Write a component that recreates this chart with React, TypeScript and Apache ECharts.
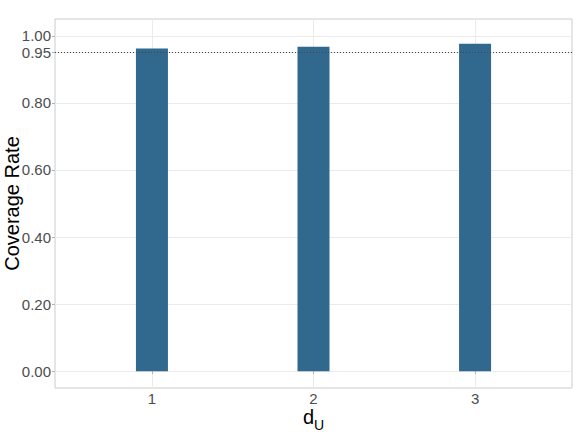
import React, { useEffect, useRef } from "react";
import * as echarts from "echarts";

const categories = [1, 2, 3];
const coverage = [0.962, 0.967, 0.976];
const yTicks = [0, 0.2, 0.4, 0.6, 0.8, 0.95, 1.0];
const nominal = 0.95;

export default function App() {
  const ref = useRef<HTMLDivElement>(null);
  useEffect(() => {
    if (!ref.current) return;
    const chart = echarts.init(ref.current, null, { renderer: "svg" });
    const font = "Liberation Sans, Arial, sans-serif";
    chart.setOption({
      animation: false,
      backgroundColor: "#ffffff",
      grid: {
        left: 55,
        right: 4,
        top: 19,
        bottom: 44,
        outerBoundsMode: "none",
        containLabel: false,
        show: true,
        borderColor: "#cccccc",
        borderWidth: 1,
        backgroundColor: "transparent",
      },
      xAxis: {
        type: "value",
        min: 0.4,
        max: 3.6,
        name: "{d|d}{s|U}",
        nameLocation: "middle",
        nameMoveOverlap: false,
        nameGap: 17,
        nameTextStyle: {
          verticalAlign: "top",
          rich: {
            d: { fontSize: 20, color: "#000000", fontFamily: font, verticalAlign: "bottom", lineHeight: 22 },
            s: { fontSize: 14, color: "#000000", fontFamily: font, verticalAlign: "bottom", lineHeight: 16, padding: [0, 0, -5, 0] },
          },
        },
        axisLine: { show: false },
        axisTick: { show: true, length: 3, lineStyle: { color: "#b3b3b3" }, customValues: categories },
        axisLabel: {
          customValues: categories,
          color: "#4d4d4d",
          fontSize: 15,
          fontFamily: font,
          margin: 3,
          formatter: (v: number) => String(v),
        },
        splitLine: { show: true, lineStyle: { color: "#ebebeb", width: 1 } },
      },
      yAxis: {
        type: "value",
        min: -0.05,
        max: 1.05,
        name: "Coverage Rate",
        nameLocation: "middle",
        nameMoveOverlap: false,
        nameGap: 33,
        nameTextStyle: { fontSize: 20, color: "#000000", fontFamily: font },
        axisLine: { show: false },
        axisTick: { show: true, length: 3, lineStyle: { color: "#b3b3b3" }, customValues: yTicks },
        axisLabel: {
          customValues: yTicks,
          color: "#4d4d4d",
          fontSize: 15,
          fontFamily: font,
          margin: 4,
          formatter: (v: number) => v.toFixed(2),
        },
        splitLine: { show: true, lineStyle: { color: "#ebebeb", width: 1 } },
      },
      series: [
        {
          type: "bar",
          data: categories.map((c, i) => [c, coverage[i]]),
          barWidth: 32,
          itemStyle: { color: "#31688e" },
          markLine: {
            silent: true,
            symbol: "none",
            label: { show: false },
            lineStyle: { color: "#444444", type: [1, 2], width: 1.2 },
            data: [{ yAxis: nominal }],
          },
        },
      ],
    });
    return () => chart.dispose();
  }, []);
  return (
    <div
      ref={ref}
      style={{ position: "fixed", left: 0, top: 0, width: 576, height: 432 }}
    />
  );
}
